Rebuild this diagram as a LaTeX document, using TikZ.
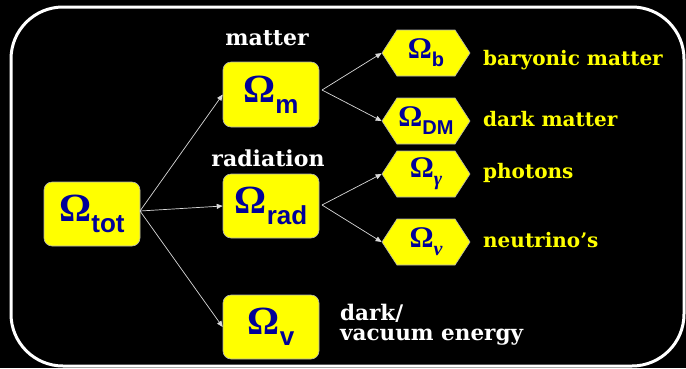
\documentclass[tikz,border=0pt]{standalone}
\usepackage{fontspec}
\setmainfont{DejaVu Serif}
\newfontfamily\omfont{Liberation Serif}
\newfontfamily\subfont{Liberation Sans}
\usetikzlibrary{shapes.symbols,arrows.meta}
\definecolor{omblue}{HTML}{000099}
\definecolor{boxyellow}{HTML}{FFFF00}
\newcommand{\BigOm}[1]{{\fontsize{40}{40}\selectfont\omfont\bfseries Ω}\raisebox{-11pt}{\fontsize{26}{26}\selectfont\subfont\bfseries #1}}
\newcommand{\SmOm}[1]{{\fontsize{30}{30}\selectfont\omfont\bfseries Ω}\raisebox{-8pt}{\fontsize{20}{20}\selectfont #1}}
\tikzset{
  ombox/.style={draw=gray!60, line width=0.6pt, fill=boxyellow, rounded corners=8pt, minimum width=96pt, minimum height=65pt, inner sep=0pt, text=omblue},
  hexbox/.style={shape=signal, signal to=east and west, signal pointer angle=114, draw=gray!60, line width=0.6pt, fill=boxyellow, minimum width=88pt, minimum height=46pt, inner sep=0pt, text=omblue},
  conn/.style={draw=white!85!black, line width=0.7pt, -{Triangle[length=6pt,width=5pt]}},
  whitelab/.style={text=white, font=\fontsize{22}{22}\selectfont\bfseries, inner sep=0pt},
  yellowlab/.style={text=boxyellow, font=\fontsize{20}{20}\selectfont\bfseries, inner sep=0pt},
}
\begin{document}
\begin{tikzpicture}[x=1pt,y=-1pt]
\fill[black] (0,0) rectangle (686,368);
\useasboundingbox (0,0) rectangle (686,368);
\draw[white, line width=3pt, rounded corners=52pt] (11,7) rectangle (684,366);

\node[ombox, minimum height=64pt] (tot) at (92,214) {\BigOm{tot}};
\node[ombox] (m) at (271,94.5) {\BigOm{m}};
\node[ombox, minimum height=64pt] (rad) at (271,206) {\BigOm{rad}};
\node[ombox, minimum height=64pt] (v) at (271,327) {\BigOm{v}};

\node[hexbox] (b) at (426,53) {\SmOm{\subfont\bfseries b}};
\node[hexbox] (dm) at (426,121) {\SmOm{\subfont\bfseries DM}};
\node[hexbox] (g) at (426,174) {\SmOm{\omfont\bfseries\itshape γ}};
\node[hexbox] (n) at (426,242) {\SmOm{\omfont\bfseries\itshape ν}};

\node[whitelab, anchor=base] (lm) at (267,45) {matter};
\node[whitelab, anchor=base] (lr) at (268,166) {radiation};
\node[whitelab, anchor=north west, align=left, font=\fontsize{21.5}{20}\selectfont\bfseries] (lv) at (340,304) {dark/\\vacuum energy};

\node[yellowlab, anchor=base west] (lb) at (483,65) {baryonic matter};
\node[yellowlab, anchor=base west] (ldm) at (483,126) {dark matter};
\node[yellowlab, anchor=base west] (lg) at (483,178) {photons};
\node[yellowlab, anchor=base west] (ln) at (483,247) {neutrino’s};

\coordinate (tote) at (140,211);
\draw[conn] (tote) -- (m.west);
\draw[conn] (tote) -- (rad.west);
\draw[conn] (tote) -- (v.west);
\coordinate (me) at (322,90);
\coordinate (re) at (322,205);
\draw[conn] (me) -- (b.west);
\draw[conn] (me) -- (dm.west);
\draw[conn] (re) -- (g.west);
\draw[conn] (re) -- (n.west);
\end{tikzpicture}
\end{document}
